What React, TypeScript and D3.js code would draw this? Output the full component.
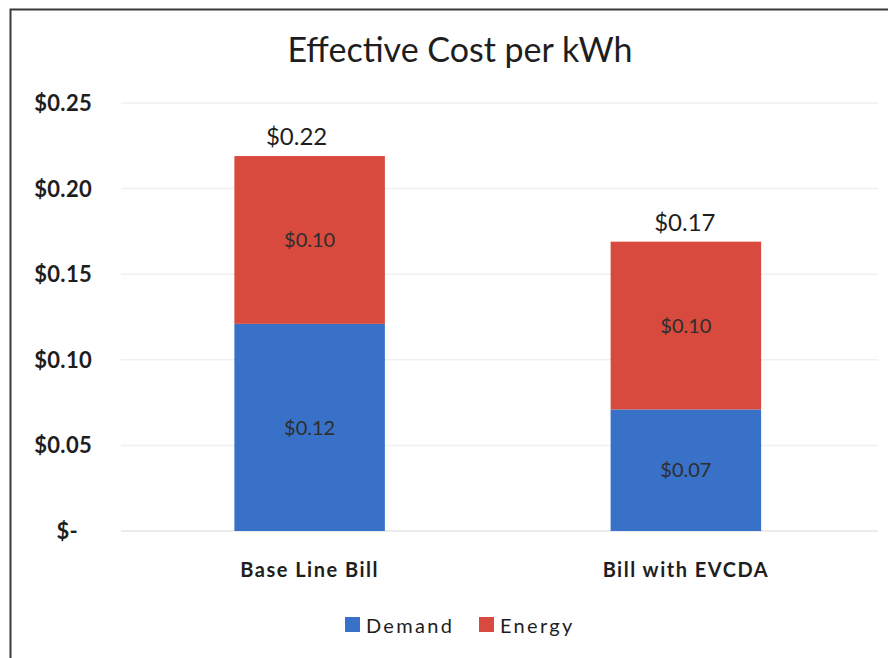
import React from "react";
import * as d3 from "d3";

const categories = ["Base Line Bill", "Bill with EVCDA"];
const demand = [0.121, 0.071];
const energy = [0.098, 0.098];
const seriesNames = ["Demand", "Energy"];
const yTicks = [0, 0.05, 0.1, 0.15, 0.2, 0.25];

const W = 888;
const H = 658;
const colors = ["#3871c7", "#d84a3d"];
const FONT = "Lato, 'Open Sans', sans-serif";
// small horizontal nudge of the total labels, as placed in the original
const totalNudge = [-13, -1];

export default function App() {
  const y = d3.scaleLinear().domain([0, 0.25]).range([531, 103]);
  const x = d3
    .scaleBand<string>()
    .domain(categories)
    .range([121.5, 874])
    .paddingInner(0.6)
    .paddingOuter(0.3);

  const rows = categories.map((c, i) => ({ cat: c, Demand: demand[i], Energy: energy[i] }));
  const stacked = d3.stack<any>().keys(seriesNames)(rows);
  const fmt = (v: number) => (v === 0 ? "$-" : "$" + d3.format(".2f")(v));

  const legendX = [345, 479];

  return (
    <svg
      width={W}
      height={H}
      style={{ position: "absolute", left: 0, top: 0, display: "block", background: "#fff" }}
      fontFamily={FONT}
    >
      <rect x={0} y={0} width={W} height={H} fill="#fff" />
      <path d={`M10.5,${H} V9.5 H${W}`} fill="none" stroke="#3a3a3a" strokeWidth={2} />
      <text x={460} y={62} textAnchor="middle" fontSize={34} fill="#1e1e1e">
        Effective Cost per kWh
      </text>

      {yTicks.map((t) => (
        <g key={t}>
          <line
            x1={121}
            x2={878}
            y1={y(t)}
            y2={y(t)}
            stroke={t === 0 ? "#e4e4e4" : "#f0f0f0"}
            strokeWidth={1.5}
          />
          <text
            x={t === 0 ? 78 : 92}
            y={y(t)}
            dy="0.36em"
            textAnchor="end"
            fontSize={22}
            fontWeight="bold"
            letterSpacing={0.3}
            fill="#1e1e1e"
          >
            {fmt(t)}
          </text>
        </g>
      ))}

      {stacked.map((s, si) => (
        <g key={s.key}>
          {s.map((d, i) => (
            <g key={i}>
              <rect
                x={x(categories[i])!}
                width={x.bandwidth()}
                y={y(d[1])}
                height={y(d[0]) - y(d[1])}
                fill={colors[si]}
              />
              <text
                x={x(categories[i])! + x.bandwidth() / 2}
                y={(y(d[0]) + y(d[1])) / 2}
                dy="0.36em"
                textAnchor="middle"
                fontSize={20}
                fill="#2e2e2e"
              >
                {fmt(d[1] - d[0])}
              </text>
            </g>
          ))}
        </g>
      ))}

      {categories.map((c, i) => (
        <g key={c}>
          <text
            x={x(c)! + x.bandwidth() / 2 + totalNudge[i]}
            y={y(demand[i] + energy[i]) - 11}
            textAnchor="middle"
            fontSize={24}
            fill="#1e1e1e"
          >
            {fmt(demand[i] + energy[i])}
          </text>
          <text
            x={x(c)! + x.bandwidth() / 2}
            y={577}
            textAnchor="middle"
            fontSize={20}
            fontWeight="bold"
            letterSpacing={1.5}
            fill="#1e1e1e"
          >
            {c}
          </text>
        </g>
      ))}

      {seriesNames.map((n, i) => (
        <g key={n}>
          <rect x={legendX[i]} y={617} width={15} height={15} fill={colors[i]} />
          <text x={legendX[i] + 21} y={633} fontSize={20} letterSpacing={2.3} fill="#1e1e1e">
            {n}
          </text>
        </g>
      ))}
    </svg>
  );
}
